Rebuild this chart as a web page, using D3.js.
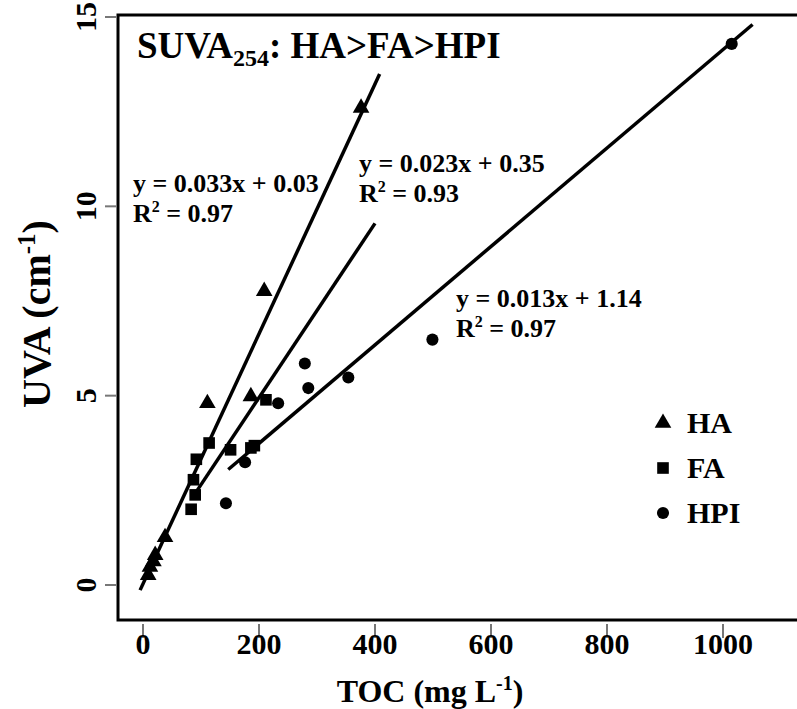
<!DOCTYPE html>
<html><head><meta charset="utf-8">
<script src="https://cdn.jsdelivr.net/npm/d3@7/dist/d3.min.js"></script>
<style>body{margin:0;background:#fff}svg{display:block}text{font-family:"Liberation Serif","Times New Roman",serif;font-weight:bold;fill:#000}</style>
</head><body>
<script>
// ---- data ----
const haX = [9, 12, 18, 21, 38, 111, 186, 209, 376];
const haY = [0.26, 0.48, 0.62, 0.79, 1.26, 4.8, 4.98, 7.76, 12.6];
const faX = [83, 87, 90, 92, 114, 151, 186, 192, 212];
const faY = [2.0, 2.78, 2.38, 3.32, 3.75, 3.57, 3.62, 3.68, 4.89];
const hpiX = [143, 176, 233, 279, 285, 354, 499, 1015];
const hpiY = [2.16, 3.24, 4.8, 5.85, 5.2, 5.48, 6.48, 14.29];
const fits = [
  {name: "HA", slope: 0.033, icpt: 0.03, x0: -5, x1: 408, eq: "y = 0.033x + 0.03", r2: "0.97"},
  {name: "FA", slope: 0.023, icpt: 0.35, x0: 88, x1: 400, eq: "y = 0.023x + 0.35", r2: "0.93"},
  {name: "HPI", slope: 0.013, icpt: 1.14, x0: 147, x1: 1051, eq: "y = 0.013x + 1.14", r2: "0.97"}
];
const xTicks = [0, 200, 400, 600, 800, 1000];
const yTicks = [0, 5, 10, 15];
const legendNames = ["HA", "FA", "HPI"];

const W = 797, H = 709;
const svg = d3.select("body").append("svg").attr("width", W).attr("height", H);
const x = d3.scaleLinear().domain([0, 1000]).range([143, 723]);
const y = d3.scaleLinear().domain([0, 15]).range([585, 17]);
const frame = {l: 118, t: 15, r: 802, b: 620};

// ticks
svg.append("g").selectAll("line").data(xTicks).join("line")
  .attr("x1", d => x(d)).attr("x2", d => x(d)).attr("y1", frame.b + 4).attr("y2", frame.b + 18)
  .attr("stroke", "#777").attr("stroke-width", 2);
svg.append("g").selectAll("text").data(xTicks).join("text")
  .attr("x", d => x(d)).attr("y", 654).attr("text-anchor", "middle").attr("font-size", 30).text(d => d);
svg.append("g").selectAll("line").data(yTicks).join("line")
  .attr("y1", d => y(d)).attr("y2", d => y(d)).attr("x1", frame.l - 13).attr("x2", frame.l - 2)
  .attr("stroke", "#777").attr("stroke-width", 2);
svg.append("g").selectAll("text").data(yTicks).join("text")
  .attr("transform", d => `translate(96,${y(d)}) rotate(-90)`).attr("text-anchor", "middle")
  .attr("font-size", 30).text(d => d);

// frame
svg.append("rect").attr("x", frame.l).attr("y", frame.t).attr("width", frame.r - frame.l).attr("height", frame.b - frame.t)
  .attr("fill", "none").attr("stroke", "#000").attr("stroke-width", 3);

// axis titles
const xt = svg.append("text").attr("x", 430).attr("y", 702).attr("text-anchor", "middle").attr("font-size", 32);
xt.append("tspan").text("TOC (mg L");
xt.append("tspan").attr("font-size", 20).attr("dy", -12).text("-1");
xt.append("tspan").attr("dy", 12).text(")");
const yt = svg.append("text").attr("transform", "translate(50,314) rotate(-90)").attr("text-anchor", "middle").attr("font-size", 40);
yt.append("tspan").text("UVA (cm");
yt.append("tspan").attr("font-size", 25).attr("dy", -15).text("-1");
yt.append("tspan").attr("dy", 15).text(")");

// title
const tt = svg.append("text").attr("x", 137).attr("y", 58).attr("font-size", 37);
tt.append("tspan").text("SUVA");
tt.append("tspan").attr("font-size", 24).attr("dy", 8).text("254");
tt.append("tspan").attr("dy", -8).text(": HA>FA>HPI");

// fit lines
svg.append("g").selectAll("line").data(fits).join("line")
  .attr("x1", d => x(d.x0)).attr("y1", d => y(d.slope * d.x0 + d.icpt))
  .attr("x2", d => x(d.x1)).attr("y2", d => y(d.slope * d.x1 + d.icpt))
  .attr("stroke", "#000").attr("stroke-width", 3.5);

// points
const tri = d3.symbol().type(d3.symbolTriangle).size(120);
const sq = d3.symbol().type(d3.symbolSquare).size(135);
const circ = d3.symbol().type(d3.symbolCircle).size(115);
svg.append("g").selectAll("path").data(haX.map((v, i) => [v, haY[i]])).join("path")
  .attr("d", tri).attr("transform", d => `translate(${x(d[0])},${y(d[1])})`).attr("fill", "#000");
svg.append("g").selectAll("path").data(faX.map((v, i) => [v, faY[i]])).join("path")
  .attr("d", sq).attr("transform", d => `translate(${x(d[0])},${y(d[1])})`).attr("fill", "#000");
svg.append("g").selectAll("path").data(hpiX.map((v, i) => [v, hpiY[i]])).join("path")
  .attr("d", circ).attr("transform", d => `translate(${x(d[0])},${y(d[1])})`).attr("fill", "#000");

// equations
const eqPos = [[133, 192], [359, 172], [456, 307]];
fits.forEach((f, i) => {
  const [ex, ey] = eqPos[i];
  svg.append("text").attr("x", ex).attr("y", ey).attr("font-size", 26).text(f.eq);
  const r = svg.append("text").attr("x", ex).attr("y", ey + 30).attr("font-size", 26);
  r.append("tspan").text("R");
  r.append("tspan").attr("font-size", 16).attr("dy", -10).text("2");
  r.append("tspan").attr("dy", 10).text(" = " + f.r2);
});

// legend
const legSyms = [tri, sq, circ];
legendNames.forEach((n, i) => {
  const cy = 423 + i * 45;
  svg.append("path").attr("d", legSyms[i]).attr("transform", `translate(663,${cy})`).attr("fill", "#000");
  svg.append("text").attr("x", 687).attr("y", cy + 10).attr("font-size", 30).text(n);
});
</script>
</body></html>
